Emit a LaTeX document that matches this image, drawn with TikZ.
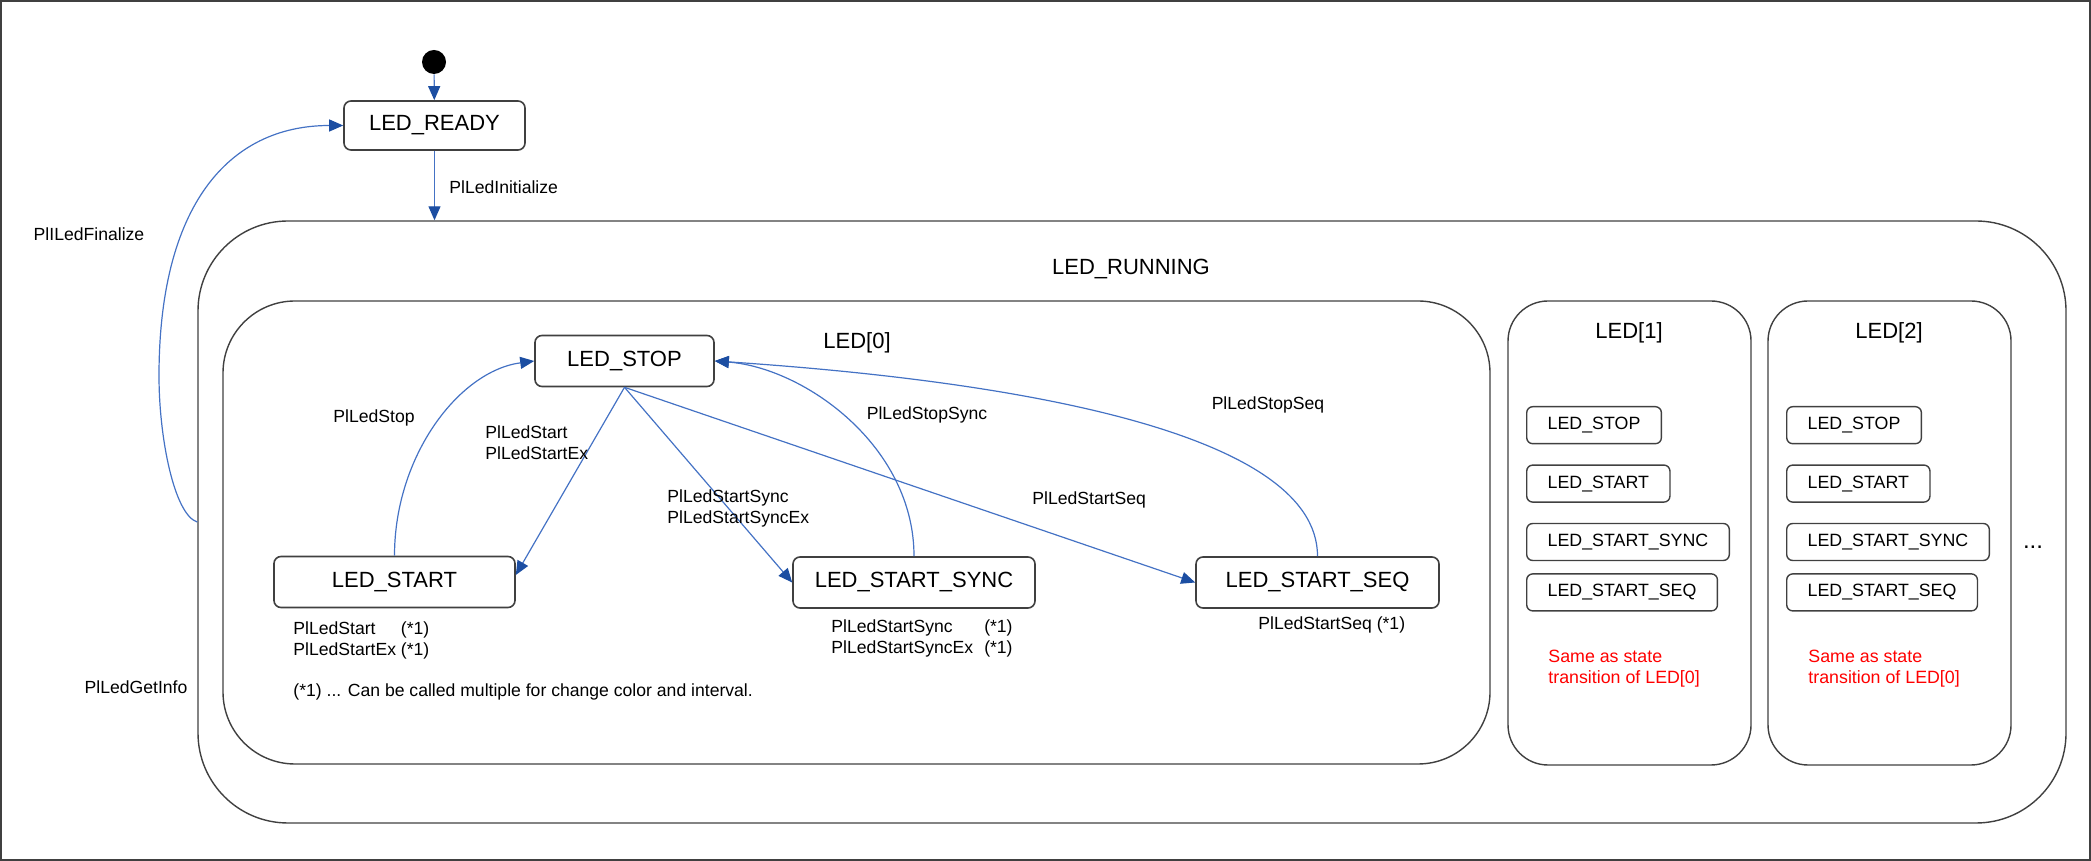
\documentclass[tikz,border=0pt]{standalone}
\usepackage{fontspec}
\setmainfont{Liberation Sans}
\usepackage{xcolor}
\usepackage{tikz}
\usetikzlibrary{arrows.meta,positioning}

\definecolor{trblue}{RGB}{68,114,196}
\definecolor{tipblue}{RGB}{28,78,162}
\definecolor{boxgray}{RGB}{64,64,64}

\begin{document}
\begin{tikzpicture}[
  x=0.5pt, y=0.5pt,
  statebox/.style={rectangle, draw=boxgray, line width=0.8pt, rounded corners=3.5pt, minimum height=25.5pt, font=\fontsize{11}{13}\selectfont},
  substate/.style={rectangle, draw=boxgray, line width=0.7pt, rounded corners=3pt, minimum height=18.5pt, inner xsep=10.5pt, font=\fontsize{8.9}{10.5}\selectfont},
  region/.style={rectangle, draw=boxgray, line width=0.7pt},
  ttl/.style={inner sep=0pt, font=\fontsize{11}{13}\selectfont},
  lbl/.style={inner sep=0pt, align=left, font=\fontsize{8.8}{10.4}\selectfont},
  remark/.style={lbl, text=red, font=\fontsize{8.9}{10.5}\selectfont},
  arr/.style={draw=trblue, line width=0.6pt, -{Triangle[length=7pt, width=6pt, color=tipblue]}}
]
  \useasboundingbox (0,0) rectangle (2091,861);
  \draw[boxgray, line width=0.8pt] (1,1) rectangle (2090,860);

  \node[circle, fill=black, minimum size=12pt, inner sep=0pt] (init) at (434,799) {};
  \node[statebox, minimum width=90.5pt, minimum height=24.5pt] (ready) at (434.5,735.5) {LED\_READY};

  \node[region, minimum width=934pt, minimum height=301pt, rounded corners=45pt] (running) at (1132,339) {};
  \node[ttl] (trunning) at (1131,592) {LED\_RUNNING};

  \node[region, minimum width=633.5pt, minimum height=231.5pt, rounded corners=36pt] (led0) at (856.5,328.5) {};
  \node[ttl] (tled0) at (857,518) {LED[0]};
  \node[region, minimum width=121.5pt, minimum height=232pt, rounded corners=20pt] (led1) at (1629.5,328) {};
  \node[ttl] (tled1) at (1629,528) {LED[1]};
  \node[region, minimum width=121.5pt, minimum height=232pt, rounded corners=20pt] (led2) at (1889.5,328) {};
  \node[ttl] (tled2) at (1889,528) {LED[2]};

  \node[statebox, minimum width=89.5pt] (stop) at (624.5,500) {LED\_STOP};
  \node[statebox, minimum width=120.5pt] (start) at (394.5,279) {LED\_START};
  \node[statebox, minimum width=121pt] (sync) at (914,278.5) {LED\_START\_SYNC};
  \node[statebox, minimum width=121.5pt] (seq) at (1317.5,278.5) {LED\_START\_SEQ};

  \coordinate (finbend) at (159,485);
  \draw[arr] (init) -- (ready);
  \draw[arr] (ready.south) -- (ready.south |- running.north);
  \draw[arr] (running.west) .. controls +(-23,7) and +(0,-62) .. (finbend) .. controls +(0,170) and +(-115,0) .. (ready.west);
  \node[lbl] (lfin) at (89,627) {PlILedFinalize};
  \node[lbl] (linfo) at (136,174) {PlLedGetInfo};
  \node[lbl, anchor=west] (linit) at (449,674) {PlLedInitialize};

  \draw[arr] (stop.south) -- ([yshift=3.5pt]start.east);
  \draw[arr] (stop.south) -- (sync.west);
  \draw[arr] (stop.south) -- (seq.west);
  \draw[arr] (start.north) .. controls +(0,100) and +(-75,-10) .. (stop.west);
  \draw[arr] (sync.north) .. controls +(0,110) and +(90,-7) .. (stop.east);
  \draw[arr] (seq.north) .. controls +(0,127) and +(285,-19) .. (stop.east);

  \node[lbl] (lstop) at (374,443) {PlLedStop};
  \node[lbl, anchor=west] (lstart) at (485,418.5) {PlLedStart\\PlLedStartEx};
  \node[lbl, anchor=west] (lsync) at (667,352.5) {PlLedStartSync\\PlLedStartSyncEx};
  \node[lbl, anchor=west] (lseq) at (1032,361) {PlLedStartSeq};
  \node[lbl] (lstopsync) at (927,446) {PlLedStopSync};
  \node[lbl] (lstopseq) at (1268,456) {PlLedStopSeq};

  \node[lbl, anchor=west] (nstart) at (293,220.5) {\begin{tabular}{@{}l@{\ }l@{}}PlLedStart & (*1)\\PlLedStartEx & (*1)\end{tabular}};
  \node[lbl, anchor=west] (nsync) at (831,222.5) {\begin{tabular}{@{}l@{\hspace{5.5pt}}l@{}}PlLedStartSync & (*1)\\PlLedStartSyncEx & (*1)\end{tabular}};
  \node[lbl, anchor=west] (nseq) at (1258,236) {PlLedStartSeq (*1)};
  \node[lbl, anchor=west] (nfoot) at (293,169) {(*1) ... Can be called multiple for change color and interval.};

  \node[substate, anchor=north west] (s1stop) at (1526,455) {LED\_STOP};
  \node[substate, below=10pt of s1stop.south west, anchor=north west] (s1start) {LED\_START};
  \node[substate, below=10pt of s1start.south west, anchor=north west] (s1sync) {LED\_START\_SYNC};
  \node[substate, below=6pt of s1sync.south west, anchor=north west] (s1seq) {LED\_START\_SEQ};
  \node[remark, anchor=west] (r1) at (1548,192.5) {Same as state\\transition of LED[0]};

  \node[substate, anchor=north west] (s2stop) at (1786,455) {LED\_STOP};
  \node[substate, below=10pt of s2stop.south west, anchor=north west] (s2start) {LED\_START};
  \node[substate, below=10pt of s2start.south west, anchor=north west] (s2sync) {LED\_START\_SYNC};
  \node[substate, below=6pt of s2sync.south west, anchor=north west] (s2seq) {LED\_START\_SEQ};
  \node[remark, anchor=west] (r2) at (1808,192.5) {Same as state\\transition of LED[0]};

  \node[ttl, font=\fontsize{12}{14}\selectfont] (more) at (2033,314) {...};
\end{tikzpicture}
\end{document}
